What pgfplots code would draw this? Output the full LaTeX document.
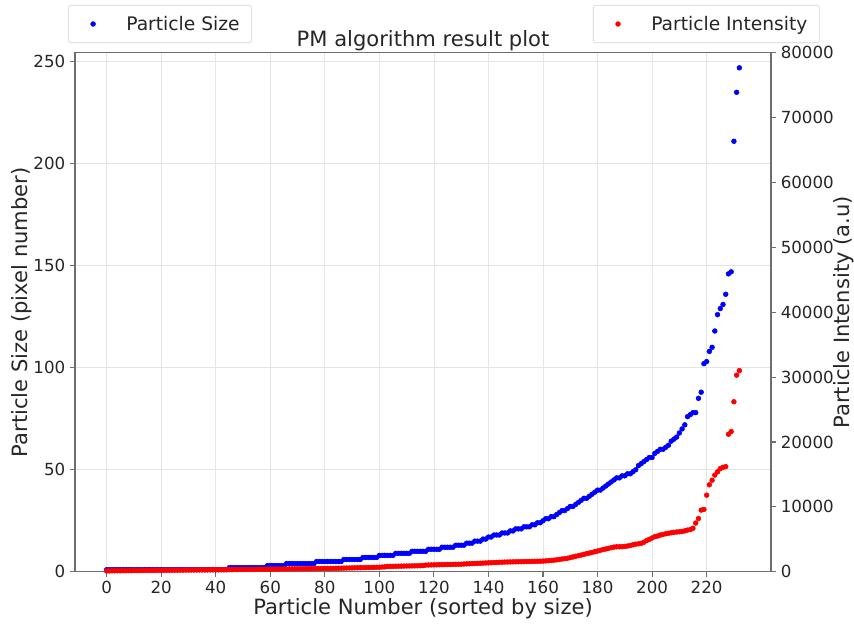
\documentclass[border=0pt]{standalone}
\usepackage{pgfplots}
\pgfplotsset{compat=1.18}
\usepackage{fontspec}
\setmainfont{DejaVu Sans}
\definecolor{axgray}{RGB}{110,110,110}
\definecolor{gridgray}{RGB}{228,228,228}
\begin{document}
\begin{tikzpicture}
\pgfplotsset{
  common/.style={
    width=522pt, height=389.25pt, scale only axis,
    xmin=-11.6, xmax=243.6,
    clip=false,
    tick align=outside,
    major tick length=3.8pt,
    tick style={axgray, line width=0.8pt},
    axis line style={axgray, line width=1pt},
    /pgf/number format/assume math mode=true,
    /pgf/number format/1000 sep={},
    scaled ticks=false,
    tick label style={font=\fontsize{12.5}{15}\selectfont, text=black!85},
    label style={font=\fontsize{15.8}{18}\selectfont, text=black!85},
    legend style={draw=gray!35, rounded corners=2pt, fill=white,
      font=\fontsize{14}{16}\selectfont, text=black!85,
      inner xsep=7pt, inner ysep=6pt},
    legend image code/.code={\path (0,0) (1.2cm,0); \draw[#1] plot coordinates {(0.4cm,0)};},
  }
}
\begin{axis}[common,
  ymin=0, ymax=254.4,
  xtick={0,20,...,220}, ytick={0,50,...,250},
  tick pos=left,
  grid=major, grid style={gridgray, line width=0.6pt},
  xlabel={Particle Number (sorted by size)},
  ylabel={Particle Size (pixel number)},
  xlabel style={at={(axis description cs:0.5,-0.0705)}, anchor=center},
  ylabel style={at={(axis description cs:-0.0762,0.5)}, anchor=center},
  title={PM algorithm result plot},
  title style={at={(axis description cs:0.5,1.023)}, anchor=center, yshift=-6pt, font=\fontsize{15.8}{18}\selectfont, text=black!85},
  legend style={at={(axis description cs:-0.01,1.092)}, anchor=north west},
]
\addplot[only marks, mark=*, mark size=1.8pt, color=blue, mark options={draw=none, fill=blue}] coordinates {
(0,1) (1,1) (2,1) (3,1) (4,1) (5,1) (6,1) (7,1) (8,1) (9,1) (10,1) (11,1) (12,1) (13,1) (14,1) (15,1) (16,1) (17,1) (18,1) (19,1)
(20,1) (21,1) (22,1) (23,1) (24,1) (25,1) (26,1) (27,1) (28,1) (29,1) (30,1) (31,1) (32,1) (33,1) (34,1) (35,1) (36,1) (37,1) (38,1) (39,1)
(40,1) (41,1) (42,1) (43,1) (44,1) (45,2) (46,2) (47,2) (48,2) (49,2) (50,2) (51,2) (52,2) (53,2) (54,2) (55,2) (56,2) (57,2) (58,2)
(59,3) (60,3) (61,3) (62,3) (63,3) (64,3) (65,3) (66,4) (67,4) (68,4) (69,4) (70,4) (71,4) (72,4) (73,4) (74,4) (75,4) (76,4)
(77,5) (78,5) (79,5) (80,5) (81,5) (82,5) (83,5) (84,5) (85,5) (86,5) (87,6) (88,6) (89,6) (90,6) (91,6) (92,6) (93,6)
(94,7) (95,7) (96,7) (97,7) (98,7) (99,7) (100,8) (101,8) (102,8) (103,8) (104,8) (105,8) (106,9) (107,9) (108,9) (109,9) (110,9) (111,9)
(112,10) (113,10) (114,10) (115,10) (116,10) (117,10) (118,11) (119,11) (120,11) (121,11) (122,11) (123,12) (124,12) (125,12) (126,12) (127,12)
(128,13) (129,13) (130,13) (131,13) (132,14) (133,14) (134,14) (135,15) (136,15) (137,15) (138,16) (139,16) (140,17) (141,17)
(142,18) (143,18) (144,18) (145,19) (146,19) (147,19) (148,20) (149,20) (150,21) (151,21) (152,21) (153,22) (154,22) (155,22)
(156,23) (157,23) (158,24) (159,24) (160,25) (161,26) (162,26) (163,27) (164,27) (165,28) (166,29) (167,30) (168,30) (169,31)
(170,32) (171,32) (172,33) (173,34) (174,35) (175,36) (176,36) (177,37) (178,38) (179,39) (180,40) (181,40) (182,41) (183,42)
(184,43) (185,44) (186,45) (187,46) (188,46) (189,47) (190,47) (191,48) (192,48) (193,49) (194,50) (195,52) (196,53) (197,54)
(198,55) (199,56) (200,56) (201,58) (202,59) (203,60) (204,60) (205,61) (206,62) (207,64) (208,65) (209,66) (210,68) (211,70)
(212,72) (213,76) (214,77) (215,78) (216,78) (217,85) (218,88) (219,102) (220,103) (221,108) (222,110) (223,118) (224,126)
(225,129) (226,131) (227,136) (228,146) (229,147) (230,211) (231,235) (232,247)
};
\addlegendentry{Particle Size}
\end{axis}
\begin{axis}[common,
  ymin=0, ymax=80000,
  axis x line=none,
  axis y line*=right,
  ytick={0,10000,...,80000},
  ylabel={Particle Intensity (a.u)},
  ylabel style={at={(axis description cs:1.105,0.5)}, anchor=center},
  legend style={at={(axis description cs:1.07,1.092)}, anchor=north east},
]
\addplot[only marks, mark=*, mark size=1.8pt, color=red, mark options={draw=none, fill=red}] coordinates {
(0,120) (1,130) (2,140) (3,140) (4,150) (5,150) (6,160) (7,160) (8,170) (9,170) (10,180) (11,180) (12,190) (13,190) (14,200) (15,200)
(16,200) (17,210) (18,210) (19,220) (20,220) (21,220) (22,230) (23,230) (24,240) (25,240) (26,240) (27,250) (28,250) (29,260) (30,260)
(31,260) (32,270) (33,270) (34,280) (35,280) (36,280) (37,290) (38,290) (39,300) (40,300) (41,300) (42,310) (43,310) (44,320)
(45,330) (46,330) (47,340) (48,340) (49,350) (50,350) (51,360) (52,360) (53,370) (54,370) (55,380) (56,380) (57,390) (58,390)
(59,400) (60,400) (61,410) (62,410) (63,420) (64,420) (65,430) (66,430) (67,440) (68,440) (69,450) (70,450) (71,460) (72,460)
(73,470) (74,470) (75,480) (76,480) (77,490) (78,490) (79,500) (80,500) (81,510) (82,510) (83,520) (84,520)
(85,540) (86,550) (87,560) (88,570) (89,580) (90,590) (91,600) (92,610) (93,620) (94,630) (95,640) (96,650) (97,660) (98,670) (99,680) (100,690)
(101,720) (102,750) (103,800) (104,820) (105,830) (106,840) (107,850) (108,860) (109,870) (110,880) (111,890) (112,900) (113,910) (114,920) (115,930) (116,950)
(117,1020) (118,1040) (119,1050) (120,1060) (121,1070) (122,1080) (123,1090) (124,1100) (125,1110) (126,1120) (127,1130) (128,1140) (129,1150) (130,1160)
(131,1190) (132,1210) (133,1230) (134,1250) (135,1270) (136,1290) (137,1310) (138,1330) (139,1350) (140,1370) (141,1390) (142,1410) (143,1430) (144,1450) (145,1470)
(146,1490) (147,1500) (148,1510) (149,1520) (150,1530) (151,1540) (152,1550) (153,1560) (154,1570) (155,1580) (156,1590) (157,1600) (158,1610) (159,1620) (160,1640)
(161,1670) (162,1700) (163,1740) (164,1780) (165,1830) (166,1900) (167,1960) (168,2020) (169,2080) (170,2180) (171,2280) (172,2380) (173,2470)
(174,2570) (175,2680) (176,2790) (177,2880) (178,2980) (179,3080) (180,3190) (181,3300) (182,3410) (183,3510) (184,3600) (185,3700) (186,3800)
(187,3840) (188,3850) (189,3860) (190,3900) (191,3960) (192,4050) (193,4150) (194,4250) (195,4300) (196,4380) (197,4550) (198,4800) (199,5000)
(200,5200) (201,5400) (202,5500) (203,5650) (204,5750) (205,5850) (206,5920) (207,6000) (208,6070) (209,6120) (210,6160) (211,6200) (212,6300)
(213,6420) (214,6500) (215,6700) (216,7500) (217,8200) (218,9500) (219,9600) (220,11800) (221,13400) (222,14100) (223,14900) (224,15400)
(225,15900) (226,16100) (227,16200) (228,21200) (229,21600) (230,26200) (231,30300) (232,31000)
};
\addlegendentry{Particle Intensity}
\end{axis}
\pgfresetboundingbox
\path (-56.25pt,-38.5pt) rectangle (584.25pt,428.8pt);
\end{tikzpicture}
\end{document}
